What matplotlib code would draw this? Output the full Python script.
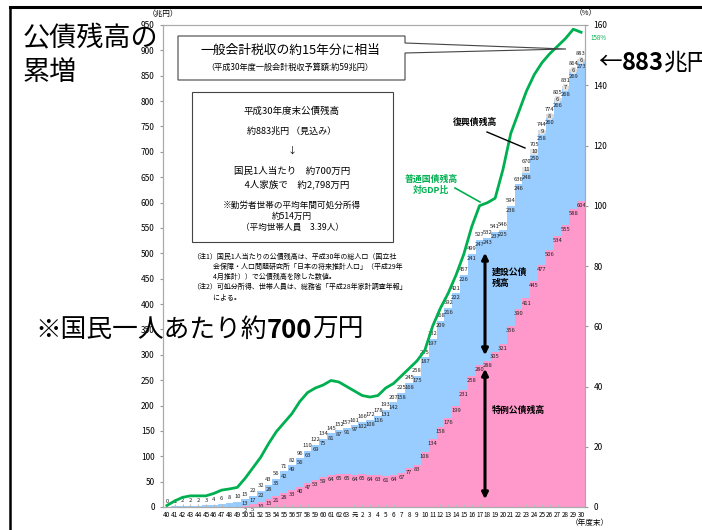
import matplotlib
matplotlib.use("Agg")
import matplotlib.pyplot as plt
import numpy as np
from matplotlib.lines import Line2D
from matplotlib.patches import FancyArrowPatch, Polygon, Rectangle

plt.rcParams["font.family"] = ["Noto Sans CJK JP", "DejaVu Sans"]

# 年度末（昭和40年度 ～ 平成30年度）
years = [str(y) for y in range(40, 64)] + ["元"] + [str(y) for y in range(2, 31)]

# 公債残高（兆円）
total = [0, 1, 2, 2, 2, 3, 4, 6, 8, 10,
         15, 22, 32, 43, 56, 71, 82, 96, 110, 122,
         134, 145, 152, 157,
         161, 166, 172, 178, 193, 207, 225, 245, 258, 295,
         332, 368, 392, 421, 457, 499, 527, 532, 541, 546,
         594, 636, 670, 705, 744, 774, 805, 831, 864, 883]
# 建設公債残高
kensetsu = [0, 1, 2, 2, 2, 3, 4, 6, 8, 10,
            13, 17, 22, 28, 35, 42, 49, 56, 63, 69,
            75, 81, 87, 91,
            97, 102, 108, 116, 131, 142, 158, 168, 175, 187,
            197, 209, 216, 222, 226, 241, 247, 243, 237, 225,
            238, 246, 248, 250, 258, 260, 266, 268, 269, 273]
# 特例公債残高
tokurei = [0, 0, 0, 0, 0, 0, 0, 0, 0, 0,
           2, 5, 10, 15, 21, 28, 33, 40, 47, 53,
           59, 64, 65, 65,
           64, 65, 64, 63, 61, 64, 67, 77, 83, 108,
           134, 158, 176, 199, 231, 258, 280, 288, 305, 321,
           356, 390, 411, 445, 477, 506, 534, 555, 588, 604]
# 復興債残高
fukkou = [0] * 46 + [11, 10, 9, 8, 6, 7, 6, 6]
# 普通国債残高対GDP比（%）
gdp_ratio = [0.5, 2.0, 3.2, 3.7, 3.7, 3.7, 4.5, 5.6, 6.0, 6.5,
             9.5, 13.0, 16.5, 21.0, 25.0, 28.0, 31.0, 35.0, 38.0, 39.5,
             40.5, 42.0, 41.5, 40.0,
             38.5, 37.0, 36.5, 37.0, 39.5, 41.0, 43.5, 46.0, 48.5, 52.0,
             60.0, 66.0, 71.0, 77.0, 84.0, 93.0, 100.0, 101.0, 102.5, 112.0,
             124.0, 131.0, 138.0, 143.5, 147.5, 150.5, 153.0, 155.5, 158.6, 157.6]

W, H = 702, 530


def fx(px):
    return px / W


def fy(py):
    return 1 - py / H


fig = plt.figure(figsize=(W / 100, H / 100), dpi=100)
ax = fig.add_axes([fx(163), fy(507), fx(585) - fx(163), fy(25) - fy(507)])

x = np.arange(len(years))
pink = np.array(tokurei)
blue = np.array(kensetsu)
grey = np.array(fukkou)

ax.bar(x, pink, width=1.0, color="#FF99CC", lw=0)
ax.bar(x, blue, bottom=pink, width=1.0, color="#99CCFF", lw=0)
ax.bar(x, grey, bottom=pink + blue, width=1.0, color="#DADADA", lw=0)

lab = dict(fontsize=4.2, color="#222222", ha="center", textcoords="offset points")
for i in x:
    top = pink[i] + blue[i] + grey[i]
    ax.annotate(str(total[i]), (i, top), xytext=(0, 2), va="bottom", **lab)
    if pink[i] > 0:
        ax.annotate(str(blue[i]), (i, pink[i] + blue[i]), xytext=(0, -1.5), va="top", **lab)
        ax.annotate(str(pink[i]), (i, pink[i]), xytext=(0, -1.5), va="top", **lab)
    if grey[i] > 0:
        ax.annotate(str(grey[i]), (i, pink[i] + blue[i] + grey[i] / 2), xytext=(0, 0),
                    va="center", bbox=dict(boxstyle="square,pad=0.12", fc="#E3E3E3", ec="none"),
                    **lab)

ax.set_xlim(-0.5, len(years) - 0.5)
ax.set_ylim(0, 950)
ax.set_yticks(range(0, 951, 50))
ax.set_xticks(x)
ax.set_xticklabels(years)
ax.tick_params(axis="x", labelsize=4.6, length=2, direction="in", color="#BBBBBB", pad=3)
ax.tick_params(axis="y", labelsize=6, length=2, color="#999999", pad=4)
for s in ax.spines.values():
    s.set_color("#AAAAAA")
    s.set_linewidth(0.8)

ax2 = ax.twinx()
ax2.plot(x, gdp_ratio, color="#00B050", lw=2)
ax2.set_ylim(0, 160)
ax2.set_yticks(range(0, 161, 20))
ax2.tick_params(axis="y", labelsize=6, length=2, color="#999999", pad=4)
for s in ax2.spines.values():
    s.set_color("#AAAAAA")
    s.set_linewidth(0.8)
fig.text(fx(590), fy(38), f"{gdp_ratio[-1]:.0f}%", fontsize=4.5, color="#00B050", va="center")

# 単位
fig.text(fx(163), fy(14), "（兆円）", fontsize=5.5, ha="center", va="center")
fig.text(fx(586), fy(13), "（%）", fontsize=5.5, ha="center", va="center")
fig.text(fx(590), fy(523), "（年度末）", fontsize=5.5, ha="center", va="center")

# スライドの枠
fig.add_artist(Line2D([fx(10), fx(702)], [fy(7), fy(7)], color="black", lw=2.2))
fig.add_artist(Line2D([fx(10), fx(10)], [fy(7), fy(530)], color="black", lw=1.8))


def chain(parts, px, py, size):
    r = fig.canvas.get_renderer()
    cur = fx(px)
    for txt, weight in parts:
        t = fig.text(cur, fy(py), txt, fontsize=size, fontweight=weight, va="center")
        bb = t.get_window_extent(renderer=r)
        cur = fig.transFigure.inverted().transform((bb.x1, bb.y0))[0]


fig.text(fx(23), fy(39), "公債残高の", fontsize=19.5, va="center")
fig.text(fx(23), fy(73), "累増", fontsize=19.5, va="center")
chain([("※国民一人あたり約", "normal"), ("700", "bold"), ("万円", "normal")], 35, 330, 18.5)
chain([("←", "normal"), ("883", "bold"), ("兆円", "normal")], 598, 63, 17)

# 吹き出し（税収比較）
box1 = [(178, 36), (405, 36), (405, 43), (566, 49), (405, 53), (405, 80), (178, 80)]
fig.add_artist(Polygon([(fx(a), fy(b)) for a, b in box1], closed=True, fill=False,
                       ec="#444444", lw=0.8, transform=fig.transFigure))
fig.text(fx(290), fy(50), "一般会計税収の約15年分に相当", fontsize=9.2, ha="center", va="center")
fig.text(fx(290), fy(67), "（平成30年度一般会計税収予算額:約59兆円）", fontsize=5.9, ha="center", va="center")

# 平成30年度末公債残高の枠
fig.add_artist(Rectangle((fx(192), fy(242)), fx(393) - fx(192), fy(92) - fy(242), fill=False,
                         ec="#444444", lw=0.8, transform=fig.transFigure))
box2 = [("平成30年度末公債残高", 111, 6.8),
        ("約883兆円 （見込み）", 131, 6.5),
        ("↓", 151, 6.5),
        ("国民1人当たり　約700万円", 171, 6.8),
        ("　4人家族で　約2,798万円", 184, 6.8),
        ("※勤労者世帯の平均年間可処分所得", 205, 6.2),
        ("約514万円", 216, 6.2),
        ("（平均世帯人員　3.39人）", 227, 6.2)]
for txt, py, size in box2:
    fig.text(fx(292), fy(py), txt, fontsize=size, ha="center", va="center")

notes = ["（注1）国民1人当たりの公債残高は、平成30年の総人口（国立社",
         "　　　会保障・人口問題研究所「日本の将来推計人口」（平成29年",
         "　　　4月推計））で公債残高を除した数値。",
         "（注2）可処分所得、世帯人員は、総務省「平成28年家計調査年報」",
         "　　　による。"]
for k, line in enumerate(notes):
    fig.text(fx(192), fy(257 + 10 * k), line, fontsize=5.0, va="center")

# 矢印と系列名
for y0, y1 in [(250, 358), (366, 502)]:
    fig.add_artist(FancyArrowPatch((fx(485), fy(y0)), (fx(485), fy(y1)), arrowstyle="<|-|>",
                                   mutation_scale=9, lw=2.2, color="black",
                                   transform=fig.transFigure))
fig.text(fx(492), fy(272), "建設公債", fontsize=6.4, fontweight="bold", va="center")
fig.text(fx(492), fy(283), "残高", fontsize=6.4, fontweight="bold", va="center")
fig.text(fx(492), fy(410), "特例公債残高", fontsize=6.4, fontweight="bold", va="center")
fig.text(fx(475), fy(122), "復興債残高", fontsize=6.4, fontweight="bold", ha="center", va="center")
fig.add_artist(Line2D([fx(487), fx(525)], [fy(132), fy(148)], color="black", lw=1))
fig.text(fx(431), fy(179), "普通国債残高", fontsize=6.4, fontweight="bold", color="#00B050",
         ha="center", va="center")
fig.text(fx(431), fy(191), "対GDP比", fontsize=6.4, fontweight="bold", color="#00B050",
         ha="center", va="center")
fig.add_artist(Line2D([fx(455), fx(480)], [fy(188), fy(202)], color="#00B050", lw=1.2))

fig.savefig("out.png", dpi=100)
